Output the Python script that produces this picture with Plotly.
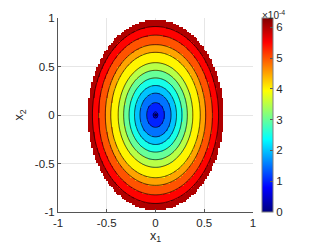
import numpy as np
import plotly.graph_objects as go

# Radial profile of the field (normalised elliptical radius -> value in units of 1e-4)
radius_pts = [0.0, 0.012, 0.03, 0.13, 0.23, 0.31, 0.39, 0.47, 0.55, 0.66, 0.74, 0.84, 0.93, 1.0, 1.6]
value_pts = [0.0, 0.5, 1.0, 1.5, 2.0, 2.5, 3.0, 3.5, 4.0, 4.5, 5.0, 5.5, 6.0, 6.3, 9.5]

# Domain (ellipse semi-axes)
semi_x1 = 0.695
semi_x2 = 0.98

level_step = 0.5   # x1e-4
level_max = 6.0
scale = 1e-4

tick_vals = [0, 1, 2, 3, 4, 5, 6]
axis_ticks = [-1, -0.5, 0, 0.5, 1]
axis_ticktext = ["-1", "-0.5", "0", "0.5", "1"]

jet = [
    [0.0, "rgb(0,0,128)"],
    [0.125, "rgb(0,0,255)"],
    [0.375, "rgb(0,255,255)"],
    [0.625, "rgb(255,255,0)"],
    [0.875, "rgb(255,0,0)"],
    [1.0, "rgb(128,0,0)"],
]

# fill grid (coarse, pixelated like reference)
g1 = np.linspace(-1, 1, 121)
X, Y = np.meshgrid(g1, g1)
R = np.sqrt((X / semi_x1) ** 2 + (Y / semi_x2) ** 2)
Z = np.interp(R, radius_pts, value_pts)
Zq = np.floor(Z / level_step) * level_step
Zq = np.where(R <= 1.0, Zq, np.nan) * scale

# line grid (fine)
g2 = np.linspace(-1, 1, 241)
X2, Y2 = np.meshgrid(g2, g2)
R2 = np.sqrt((X2 / semi_x1) ** 2 + (Y2 / semi_x2) ** 2)
Z2 = np.interp(R2, radius_pts, value_pts) * scale

cmax = 6.3 * scale

fig = go.Figure()
fig.add_trace(go.Heatmap(
    x=g1, y=g1, z=Zq, colorscale=jet, zmin=0, zmax=cmax, zsmooth=False,
    hoverongaps=False,
    colorbar=dict(
        x=1.046, xanchor="left", xref="paper", thickness=11, len=1, lenmode="fraction",
        y=0.5, yanchor="middle", outlinecolor="#7f7f7f", outlinewidth=1,
        tickvals=[v * scale for v in tick_vals], ticktext=[str(v) for v in tick_vals],
        ticks="inside", ticklen=3, tickcolor="#555",
        tickfont=dict(size=11.5, color="#262626", family="Liberation Sans"),
        ypad=0, xpad=0,
    ),
))
fig.add_trace(go.Contour(
    x=g2, y=g2, z=Z2, showscale=False,
    contours=dict(start=level_step * scale, end=level_max * scale, size=level_step * scale,
                  coloring="none"),
    line=dict(color="black", width=0.7), hoverinfo="skip",
))

axis_common = dict(
    range=[-1, 1], tickvals=axis_ticks, ticktext=axis_ticktext, showgrid=True,
    gridcolor="#e6e6e6", gridwidth=1, zeroline=False, showline=True, linecolor="#555",
    linewidth=1, ticks="inside", ticklen=3, tickcolor="#555",
    tickfont=dict(size=11.5, color="#262626", family="Liberation Sans"),
)
fig.update_xaxes(**axis_common, title=dict(text="x<sub>1</sub>", standoff=2,
                                           font=dict(size=12.5, color="#262626",
                                                     family="Liberation Sans")))
fig.update_yaxes(**axis_common, title=dict(text="x<sub>2</sub>", standoff=8,
                                           font=dict(size=12.5, color="#262626",
                                                     family="Liberation Sans")))

fig.add_annotation(xref="paper", yref="paper", x=1.04, y=1.0515, xanchor="left",
                   yanchor="top", showarrow=False, borderpad=0,
                   text="×10<sup>-4</sup>", font=dict(size=10, color="#262626",
                                                      family="Liberation Sans"))

# page shows the figure offset by the default 8px body margin, so compensate
fig.update_layout(
    width=324, height=241, margin=dict(l=50, r=79, t=10, b=37, autoexpand=False),
    paper_bgcolor="white", plot_bgcolor="white", showlegend=False,
)
fig.write_html("out.html")
